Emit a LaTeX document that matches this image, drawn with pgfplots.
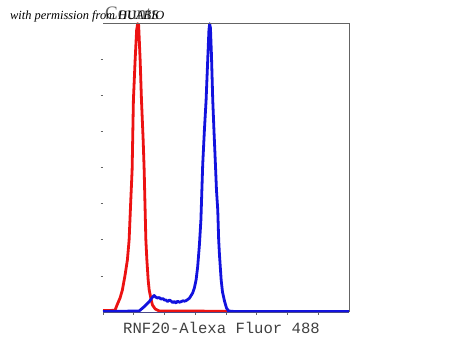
\documentclass[border=0pt]{standalone}
\usepackage{fontspec}
\setmainfont{Liberation Serif}
\newfontfamily\monof{Liberation Mono}
\usepackage{pgfplots}
\pgfplotsset{compat=1.18}
\definecolor{cred}{RGB}{236,18,18}
\definecolor{cblue}{RGB}{18,18,222}
\definecolor{cgray}{RGB}{100,100,100}
\begin{document}
\begin{tikzpicture}[x=1pt,y=1pt]
\path[use as bounding box] (0,0) rectangle (450,338);
\begin{axis}[
  at={(103pt,26pt)}, anchor=south west,
  scale only axis, width=246pt, height=289pt,
  xmin=0, xmax=8, ymin=0, ymax=8,
  xtick={0,1,...,7}, ytick={1,2,...,7},
  xticklabels={}, yticklabels={},
  xtick pos=bottom, ytick pos=left,
  tick align=outside,
  major tick length=2.5pt,
  every tick/.style={cgray, line width=0.6pt},
  axis line style={draw=none},
  clip=false,
]
\addplot[cred, line width=2.8pt, line join=round] coordinates {
(0,0.04) (0.196,0.04) (0.392,0.05) (0.457,0.194) (0.555,0.388) (0.630,0.609)
(0.718,1.024) (0.793,1.439) (0.849,1.993) (0.904,3.100) (0.947,3.931)
(0.989,5.869) (1.045,6.976) (1.094,7.806) (1.127,7.98) (1.159,7.945)
(1.208,6.976) (1.251,5.869) (1.306,4.761) (1.339,3.931) (1.362,3.100)
(1.394,1.993) (1.427,1.439) (1.469,0.886) (1.502,0.609) (1.567,0.332)
(1.609,0.194) (1.698,0.083) (1.829,0.03) (4.114,0.02)
};
\addplot[cblue, line width=2.8pt, line join=round] coordinates {
(0,0.014) (1.176,0.028) (1.339,0.147) (1.502,0.285) (1.60,0.40) (1.665,0.457)
(1.72,0.41) (1.773,0.388) (1.83,0.40) (1.884,0.360) (1.95,0.37) (2.00,0.33)
(2.047,0.332) (2.10,0.29) (2.16,0.33) (2.211,0.304) (2.27,0.26) (2.32,0.29)
(2.374,0.249) (2.43,0.30) (2.48,0.27) (2.537,0.285) (2.60,0.31) (2.65,0.30)
(2.700,0.313) (2.808,0.379) (2.916,0.526) (2.971,0.664) (3.027,0.886)
(3.079,1.254) (3.135,1.855) (3.184,2.547) (3.242,4.069) (3.298,5.038)
(3.353,5.869) (3.412,7.114) (3.445,7.806) (3.468,7.98) (3.494,7.862)
(3.527,7.114) (3.569,5.869) (3.608,5.038) (3.657,4.069) (3.690,3.377)
(3.732,2.824) (3.762,1.993) (3.788,1.578) (3.843,0.886) (3.886,0.554)
(3.951,0.304) (4.016,0.111) (4.082,0.028) (4.278,0.014) (8,0.014)
};
\draw[cgray, line width=0.8pt] (rel axis cs:0,1) -- (rel axis cs:1,1) -- (rel axis cs:1,0);
\draw[cgray!70!cblue, line width=0.8pt] (rel axis cs:0,0) -- (rel axis cs:1,0);
\end{axis}
\node[anchor=base, inner sep=0pt, font=\monof\fontsize{15.6}{18}\selectfont, text=black!75] at (221.5,5) {RNF20-Alexa Fluor 488};
\node[anchor=base west, inner sep=0pt, font=\fontsize{19}{22}\selectfont, text=cgray] at (105,318) {Counts};
\node[anchor=base west, inner sep=0pt, font=\itshape\fontsize{12.4}{14}\selectfont] at (10,318) {with permission from HUABIO};
\end{tikzpicture}
\end{document}
